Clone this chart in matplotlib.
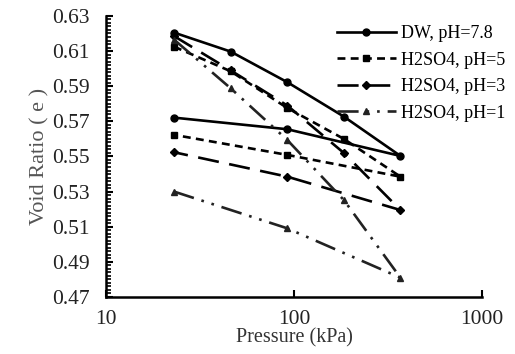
import matplotlib.pyplot as plt
from matplotlib.ticker import MultipleLocator, FixedLocator, NullLocator

plt.rcParams['font.family'] = ['Liberation Serif', 'DejaVu Serif']

# Data: loading path, then unloading (rebound) back to lower pressure
pressure = [23, 46, 92, 184, 368, 92, 23]
dw = [0.6205, 0.6097, 0.5923, 0.5727, 0.5503, 0.5655, 0.5721]
ph5 = [0.6125, 0.5985, 0.5776, 0.5600, 0.5385, 0.5509, 0.5623]
ph3 = [0.6185, 0.5990, 0.5790, 0.5520, 0.5195, 0.5385, 0.5524]
ph1 = [0.6165, 0.5888, 0.5594, 0.5252, 0.4810, 0.5091, 0.5300]
labels = ["DW, pH=7.8", "H2SO4, pH=5", "H2SO4, pH=3", "H2SO4, pH=1"]
yticks = [0.47, 0.49, 0.51, 0.53, 0.55, 0.57, 0.59, 0.61, 0.63]

fig = plt.figure(figsize=(5.15, 3.54), dpi=100)
ax = fig.add_axes([0.206, 0.161, 0.730, 0.794])

lw = 1.9
ax.plot(pressure, dw, color="black", lw=lw, marker="o", ms=5, label=labels[0])
ax.plot(pressure, ph5, color="black", lw=lw, marker="s", ms=5,
        dashes=(3, 2), label=labels[1])
ax.plot(pressure, ph3, color="black", lw=lw, marker="D", ms=4,
        dashes=(8, 4), label=labels[2])
ax.plot(pressure, ph1, color="#222222", lw=lw, marker="^", ms=5,
        dashes=(8, 3, 1, 3, 1, 3), label=labels[3])

ax.set_xscale("log")
ax.set_xlim(10, 1000)
ax.set_ylim(0.47, 0.63)
ax.xaxis.set_major_locator(FixedLocator([10, 100, 1000]))
ax.xaxis.set_minor_locator(NullLocator())
ax.set_xticklabels(["10", "100", "1000"])
ax.yaxis.set_major_locator(FixedLocator(yticks))
ax.yaxis.set_minor_locator(MultipleLocator(0.002))
ax.yaxis.set_major_formatter(plt.FuncFormatter(lambda v, p: f"{v:.2f}"))

ax.spines["top"].set_visible(False)
ax.spines["right"].set_visible(False)
ax.spines["left"].set_linewidth(1.8)
ax.spines["bottom"].set_linewidth(1.8)
ax.tick_params(axis="both", which="major", direction="in", length=5,
               width=1.5, labelsize=15.5, labelcolor="#222222")
ax.tick_params(axis="y", which="major", pad=12)
ax.tick_params(axis="x", which="major", pad=9)
ax.tick_params(axis="y", which="minor", direction="in", length=3.5, width=1.2)

ax.set_xlabel("Pressure (kPa)", fontsize=14.5, labelpad=0, color="#333333")
ax.set_ylabel("Void Ratio ( e )", fontsize=16, color="#555555", labelpad=2)

ax.legend(loc="upper right", bbox_to_anchor=(1.09, 1.005), frameon=False,
          fontsize=13, handlelength=3.3, handletextpad=0.25,
          labelspacing=0.52, borderaxespad=0.2)

fig.savefig("out.png", dpi=100)
